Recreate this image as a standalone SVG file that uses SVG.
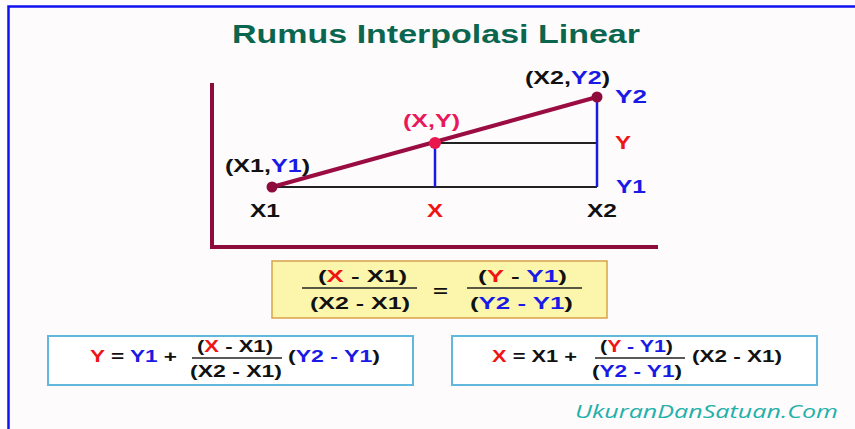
<svg xmlns="http://www.w3.org/2000/svg" width="855" height="429" viewBox="0 0 855 429">
<style>
text{font-family:"Liberation Sans",Arial,sans-serif;font-weight:bold;}
.k{fill:#111}
.b{fill:#1a1ae6}
.r{fill:#f01414}
.lbl{font-size:18px}
.f1{font-size:17px}
.f2{font-size:17px}
.frac{stroke:#222;stroke-width:1.6}
.box{fill:#ffffff;stroke:#62b8dc;stroke-width:2}
</style>
<rect x="0" y="0" width="855" height="429" fill="#fdfbfc"/>
<path d="M8.5 429 V6.5 H855" fill="none" stroke="#1010f0" stroke-width="2.5"/>
<text x="232" y="43" font-size="26" fill="#0b6650" textLength="408" lengthAdjust="spacingAndGlyphs">Rumus Interpolasi Linear</text>

<g id="axes">
<path d="M212 83 V247 H658" fill="none" stroke="#8e0c3c" stroke-width="4"/>
</g>
<g id="connectors">
<line x1="272" y1="187" x2="597" y2="187" stroke="#222" stroke-width="2"/>
<line x1="435" y1="143" x2="597" y2="143" stroke="#222" stroke-width="2"/>
<line x1="435" y1="143" x2="435" y2="187" stroke="#1a1ae6" stroke-width="2.5"/>
<line x1="597" y1="97" x2="597" y2="187" stroke="#1a1ae6" stroke-width="2.5"/>
<line x1="272" y1="187" x2="597" y2="97" stroke="#9a0c42" stroke-width="4"/>
</g>
<g id="p1">
<circle cx="272" cy="187" r="5.5" fill="#8e0c3c"/>
<text class="lbl" x="225" y="172" textLength="85" lengthAdjust="spacingAndGlyphs"><tspan class="k">(X1,</tspan><tspan class="b">Y1</tspan><tspan class="k">)</tspan></text>
<text class="lbl k" x="250" y="217" textLength="30" lengthAdjust="spacingAndGlyphs">X1</text>
</g>
<g id="p">
<circle cx="435" cy="143" r="6" fill="#e8184e"/>
<text class="lbl" x="403" y="127" fill="#e8185a" textLength="57" lengthAdjust="spacingAndGlyphs">(X,Y)</text>
<text class="lbl r" x="427" y="217" textLength="16" lengthAdjust="spacingAndGlyphs">X</text>
<text class="lbl r" x="615" y="149" textLength="16" lengthAdjust="spacingAndGlyphs">Y</text>
</g>
<g id="p2">
<circle cx="597" cy="97" r="5.5" fill="#8e0c3c"/>
<text class="lbl" x="525" y="84" textLength="85" lengthAdjust="spacingAndGlyphs"><tspan class="k">(X2,</tspan><tspan class="b">Y2</tspan><tspan class="k">)</tspan></text>
<text class="lbl k" x="587" y="217" textLength="30" lengthAdjust="spacingAndGlyphs">X2</text>
<text class="lbl b" x="615" y="103" textLength="32" lengthAdjust="spacingAndGlyphs">Y2</text>
<text class="lbl b" x="616" y="193" textLength="30" lengthAdjust="spacingAndGlyphs">Y1</text>
</g>

<g id="eq-main">
<rect x="272" y="261" width="335" height="57" fill="#fbf6ac" stroke="#d8a24a" stroke-width="1.5"/>
<text class="f1" x="318" y="282" textLength="89" lengthAdjust="spacingAndGlyphs"><tspan class="k">(</tspan><tspan class="r">X</tspan><tspan class="k"> - X1)</tspan></text>
<line class="frac" x1="302" y1="288" x2="417" y2="288"/>
<text class="f1 k" x="310" y="309" textLength="100" lengthAdjust="spacingAndGlyphs">(X2 - X1)</text>
<text class="f1 k" x="433" y="297" textLength="15" lengthAdjust="spacingAndGlyphs">=</text>
<text class="f1" x="478" y="282" textLength="89" lengthAdjust="spacingAndGlyphs"><tspan class="k">(</tspan><tspan class="r">Y</tspan><tspan class="k"> - </tspan><tspan class="b">Y1</tspan><tspan class="k">)</tspan></text>
<line class="frac" x1="467" y1="288" x2="582" y2="288"/>
<text class="f1" x="470" y="309" textLength="103" lengthAdjust="spacingAndGlyphs"><tspan class="k">(</tspan><tspan class="b">Y2 - Y1</tspan><tspan class="k">)</tspan></text>
</g>

<g id="eq-y">
<rect class="box" x="48" y="336" width="365" height="49"/>
<text class="f2" x="90" y="362" textLength="87" lengthAdjust="spacingAndGlyphs"><tspan class="r">Y</tspan><tspan class="k"> = </tspan><tspan class="b">Y1</tspan><tspan class="k"> +</tspan></text>
<text class="f2" x="197" y="352" textLength="76" lengthAdjust="spacingAndGlyphs"><tspan class="k">(</tspan><tspan class="r">X</tspan><tspan class="k"> - X1)</tspan></text>
<line class="frac" x1="192" y1="358" x2="282" y2="358"/>
<text class="f2 k" x="190" y="377" textLength="92" lengthAdjust="spacingAndGlyphs">(X2 - X1)</text>
<text class="f2" x="288" y="362" textLength="92" lengthAdjust="spacingAndGlyphs"><tspan class="k">(</tspan><tspan class="b">Y2 - Y1</tspan><tspan class="k">)</tspan></text>
</g>

<g id="eq-x">
<rect class="box" x="452" y="336" width="365" height="49"/>
<text class="f2" x="492" y="362" textLength="85" lengthAdjust="spacingAndGlyphs"><tspan class="r">X</tspan><tspan class="k"> = X1 +</tspan></text>
<text class="f2" x="600" y="352" textLength="73" lengthAdjust="spacingAndGlyphs"><tspan class="k">(</tspan><tspan class="r">Y</tspan><tspan class="b"> - Y1</tspan><tspan class="k">)</tspan></text>
<line class="frac" x1="595" y1="358" x2="685" y2="358"/>
<text class="f2" x="592" y="377" textLength="90" lengthAdjust="spacingAndGlyphs"><tspan class="k">(</tspan><tspan class="b">Y2 - Y1</tspan><tspan class="k">)</tspan></text>
<text class="f2 k" x="692" y="362" textLength="90" lengthAdjust="spacingAndGlyphs">(X2 - X1)</text>
</g>

<text x="575" y="418" font-size="19" font-style="italic" fill="#22b0aa" style="font-family:'Open Sans','DejaVu Sans',sans-serif;font-weight:normal" textLength="263" lengthAdjust="spacingAndGlyphs">UkuranDanSatuan.Com</text>
</svg>
